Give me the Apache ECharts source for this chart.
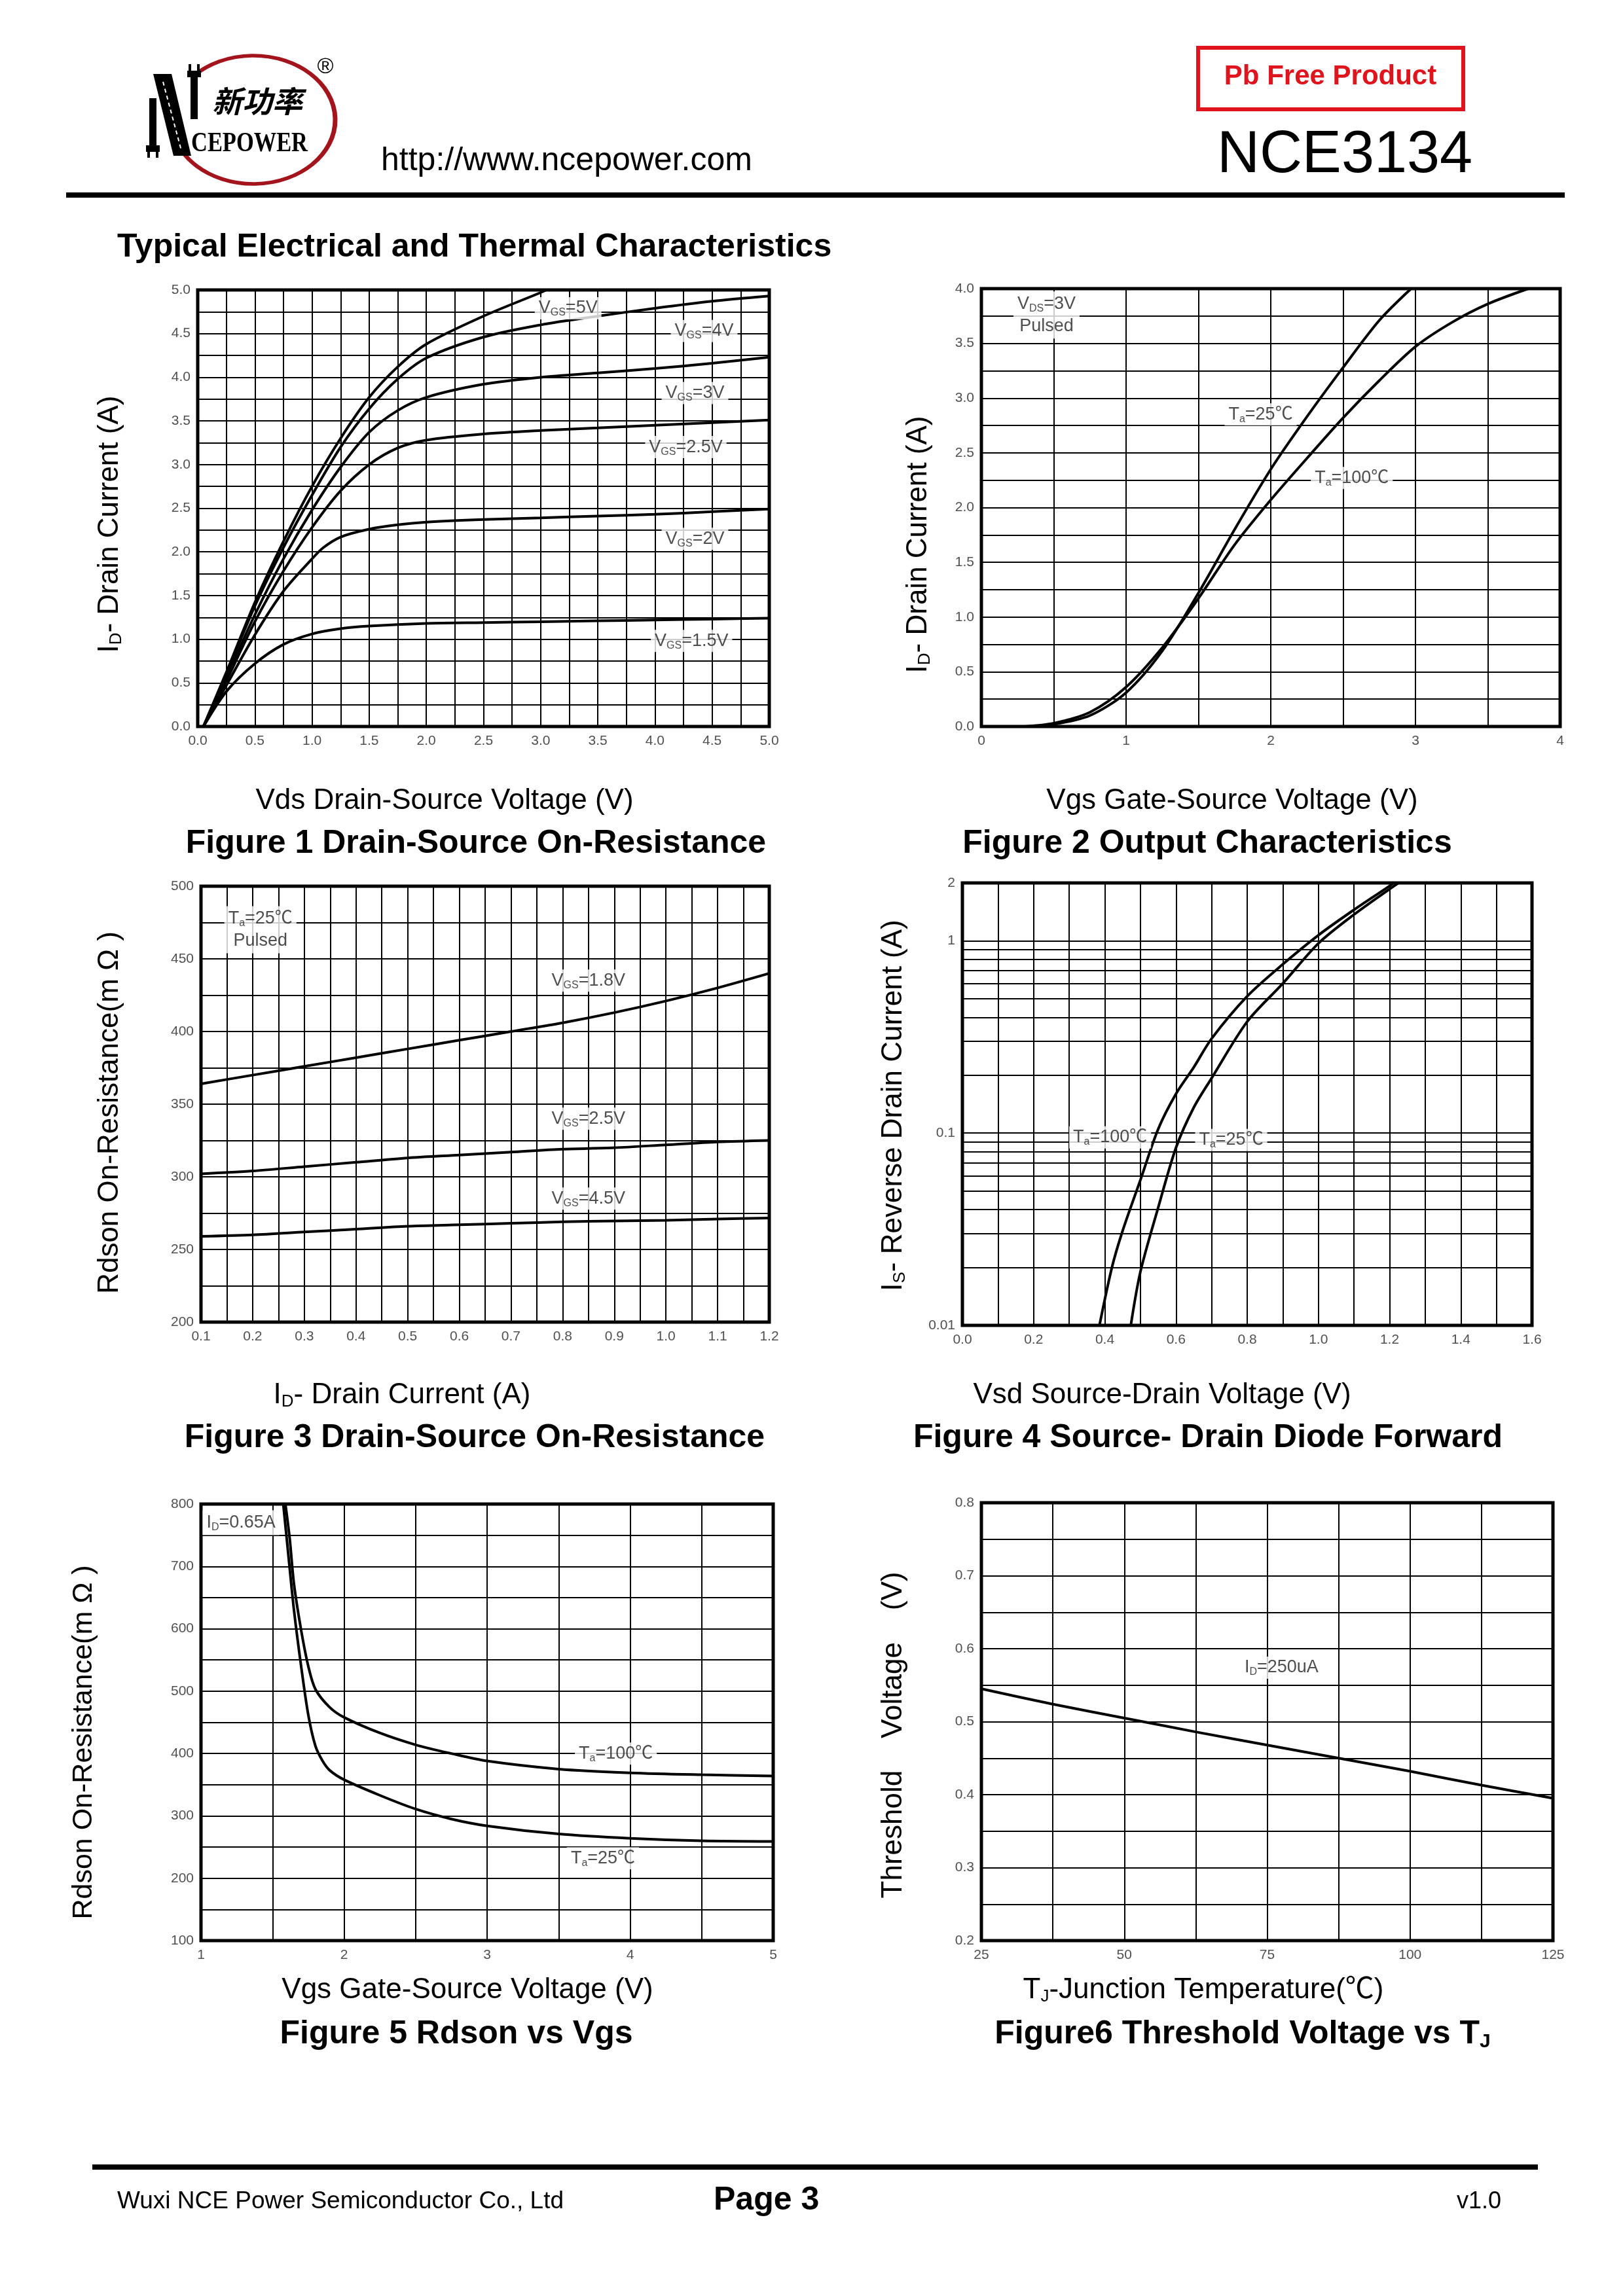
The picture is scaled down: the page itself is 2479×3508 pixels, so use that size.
<!DOCTYPE html>
<html>
<head>
<meta charset="utf-8">
<script src="https://cdn.jsdelivr.net/npm/echarts@6/dist/echarts.min.js"></script>
<style>html,body{margin:0;padding:0;background:#fff}#c{width:2479px;height:3508px}</style>
</head>
<body>
<div id="c"></div>
<script>
// ---------- DATA ----------
// Figure 1: ID vs VDS for several VGS
const fig1_vgs5  = [[0.05,0],[0.25,0.62],[0.5,1.42],[0.75,2.12],[1.0,2.75],[1.25,3.3],[1.5,3.77],[1.75,4.12],[2.0,4.38],[2.5,4.7],[3.0,4.97],[3.05,5.0]];
const fig1_vgs4  = [[0.05,0],[0.25,0.6],[0.5,1.38],[0.75,2.05],[1.0,2.65],[1.25,3.2],[1.5,3.64],[1.75,3.98],[2.0,4.22],[2.5,4.46],[3.0,4.6],[3.5,4.7],[4.0,4.79],[4.5,4.87],[5.0,4.93]];
const fig1_vgs3  = [[0.05,0],[0.25,0.56],[0.5,1.28],[0.75,1.92],[1.0,2.48],[1.25,2.97],[1.5,3.37],[1.75,3.62],[2.0,3.77],[2.5,3.92],[3.0,4.0],[3.5,4.05],[4.0,4.1],[4.5,4.16],[5.0,4.23]];
const fig1_vgs25 = [[0.05,0],[0.25,0.52],[0.5,1.2],[0.75,1.78],[1.0,2.28],[1.25,2.7],[1.5,3.0],[1.75,3.19],[2.0,3.28],[2.5,3.35],[3.0,3.39],[3.5,3.42],[4.0,3.45],[4.5,3.48],[5.0,3.51]];
const fig1_vgs2  = [[0.05,0],[0.25,0.47],[0.5,1.05],[0.75,1.55],[1.0,1.92],[1.1,2.05],[1.25,2.17],[1.5,2.26],[1.75,2.31],[2.0,2.34],[2.5,2.37],[3.0,2.39],[3.5,2.41],[4.0,2.43],[4.5,2.46],[5.0,2.49]];
const fig1_vgs15 = [[0.05,0],[0.25,0.4],[0.5,0.72],[0.75,0.94],[1.0,1.06],[1.25,1.12],[1.5,1.15],[2.0,1.18],[2.5,1.19],[3.0,1.2],[3.5,1.21],[4.0,1.22],[4.5,1.23],[5.0,1.24]];
const fig1_labels = [[3.24,4.79,'V','GS','=5V'],[4.43,4.53,'V','GS','=4V'],[4.35,3.82,'V','GS','=3V'],[4.27,3.2,'V','GS','=2.5V'],[4.35,2.15,'V','GS','=2V'],[4.32,0.98,'V','GS','=1.5V']];

// Figure 2: ID vs VGS
const fig2_t25  = [[0.3,0],[0.5,0.02],[0.75,0.1],[1.0,0.31],[1.25,0.69],[1.5,1.22],[1.75,1.8],[2.0,2.35],[2.25,2.83],[2.5,3.28],[2.75,3.71],[2.97,4.0]];
const fig2_t100 = [[0.3,0],[0.5,0.03],[0.75,0.13],[1.0,0.36],[1.25,0.72],[1.5,1.17],[1.75,1.66],[2.0,2.07],[2.25,2.45],[2.5,2.82],[2.75,3.16],[3.0,3.47],[3.25,3.69],[3.5,3.86],[3.78,4.0]];
const fig2_labels = [[1.93,2.85,'T','a','=25℃'],[2.56,2.27,'T','a','=100℃']];

// Figure 3: Rdson vs ID
const fig3_x = [0.1,0.2,0.3,0.4,0.5,0.6,0.7,0.8,0.9,1.0,1.1,1.2];
const fig3_vgs18 = [364,370,376,382,388,394,400,406,413,421,430,440];
const fig3_vgs25 = [302,304,307,310,313,315,317,319,320,322,324,325];
const fig3_vgs45 = [259,260,262,264,266,267,268,269,269.6,270,271,271.6];
const fig3_labels = [[0.85,435,'V','GS','=1.8V'],[0.85,340,'V','GS','=2.5V'],[0.85,285,'V','GS','=4.5V']];

// Figure 4: IS vs VSD (log)
const fig4_t100 = [[0.385,0.01],[0.42,0.02],[0.45,0.031],[0.5,0.057],[0.55,0.105],[0.6,0.16],[0.65,0.22],[0.7,0.31],[0.8,0.515],[0.9,0.755],[1.0,1.07],[1.1,1.45],[1.2,1.93],[1.21,2.0]];
const fig4_t25  = [[0.473,0.01],[0.5,0.019],[0.55,0.041],[0.6,0.084],[0.65,0.136],[0.7,0.193],[0.8,0.38],[0.9,0.6],[1.0,0.97],[1.1,1.37],[1.2,1.86],[1.225,2.0]];
const fig4_labels = [[0.415,0.095,'T','a','=100℃'],[0.755,0.092,'T','a','=25℃']];
const fig4_yTicks = [0.01,0.1,1,2];
const fig4_minorGrid = [0.02,0.03,0.04,0.05,0.06,0.07,0.08,0.09,0.2,0.3,0.4,0.5,0.6,0.7,0.8,0.9];

// Figure 5: Rdson vs VGS
const fig5_t100 = [[1.59,800],[1.62,745],[1.65,672],[1.7,598],[1.75,540],[1.8,503],[1.9,474],[2.0,458],[2.25,433],[2.5,414],[2.75,400],[3.0,388],[3.5,375],[4.0,369],[4.5,366],[5.0,364]];
const fig5_t25  = [[1.575,800],[1.61,720],[1.65,630],[1.7,540],[1.75,462],[1.8,412],[1.85,388],[1.9,373],[2.0,358],[2.25,333],[2.5,311],[2.75,295],[3.0,284],[3.5,271],[4.0,264],[4.5,260],[5.0,259]];
const fig5_labels = [[3.9,400,'T','a','=100℃'],[3.81,232,'T','a','=25℃']];

// Figure 6: VGS(th) vs TJ
const fig6_tj = [25,37.5,50,62.5,75,87.5,100,112.5,125];
const fig6_vth = [0.545,0.524,0.505,0.486,0.468,0.45,0.432,0.413,0.395];
const fig6_labels = [[77.5,0.574,'I','D','=250uA']];

// ---------- STYLE ----------
const FF = '"Liberation Sans", Arial, "Noto Sans CJK SC", sans-serif';
const TICK = {fontFamily: FF, fontSize: 21, color: '#505050'};
const RICH = {
  v: {fontFamily: FF, fontSize: 27, color: '#222'},
  s: {fontFamily: FF, fontSize: 16, color: '#222', padding: [14, 0, 0, 0]}
};

const grids = [
  {left: 302, top: 443, width: 873, height: 667},
  {left: 1499, top: 441, width: 884, height: 669},
  {left: 307, top: 1354, width: 868, height: 666},
  {left: 1470, top: 1349, width: 870, height: 676},
  {left: 307, top: 2298, width: 874, height: 667},
  {left: 1499, top: 2296, width: 873, height: 669}
].map(g => Object.assign({show: true, borderColor: '#000', borderWidth: 5, containLabel: false}, g));

function valAxis(gi, min, max, interval, dec, isX) {
  return {
    type: 'value', gridIndex: gi, min: min, max: max, interval: interval,
    axisLine: {show: false}, axisTick: {show: false},
    minorTick: {show: false, splitNumber: 2},
    splitLine: {show: true, lineStyle: {color: '#000', width: 2}},
    minorSplitLine: {show: true, lineStyle: {color: '#000', width: 2}},
    axisLabel: Object.assign({margin: isX ? 12 : 11, formatter: v => Number(v).toFixed(dec)}, TICK)
  };
}

const xAxes = [
  valAxis(0, 0, 5, 0.5, 1, true),
  valAxis(1, 0, 4, 1, 0, true),
  valAxis(2, 0.1, 1.2, 0.1, 1, true),
  valAxis(3, 0, 1.6, 0.2, 1, true),
  valAxis(4, 1, 5, 1, 0, true),
  valAxis(5, 25, 125, 25, 0, true)
];
const yAxes = [
  valAxis(0, 0, 5, 0.5, 1, false),
  valAxis(1, 0, 4, 0.5, 1, false),
  valAxis(2, 200, 500, 50, 0, false),
  {
    type: 'log', logBase: 10, gridIndex: 3, min: 0.01, max: 2,
    axisLine: {show: false}, axisTick: {show: false},
    splitLine: {show: true, lineStyle: {color: '#000', width: 2}},
    axisLabel: Object.assign({margin: 11, customValues: fig4_yTicks, formatter: v => String(+Number(v).toPrecision(3))}, TICK)
  },
  valAxis(4, 100, 800, 100, 0, false),
  valAxis(5, 0.2, 0.8, 0.1, 1, false)
];

function curve(gi, data) {
  return {
    type: 'line', xAxisIndex: gi, yAxisIndex: gi, data: data,
    showSymbol: false, symbol: 'none', smooth: 0.3,
    lineStyle: {color: '#000', width: 4}, z: 5, silent: true, animation: false
  };
}
function labels(gi, arr) {
  return {
    type: 'scatter', xAxisIndex: gi, yAxisIndex: gi, symbolSize: 0, silent: true, z: 8,
    data: arr.map(a => ({value: [a[0], a[1]], name: '{v|' + a[2] + '}{s|' + a[3] + '}{v|' + a[4] + '}'})),
    label: {show: true, position: 'inside', formatter: p => p.name, backgroundColor: '#fff', padding: [2, 6, 2, 6], rich: RICH},
    animation: false
  };
}
function noteBox(gi, x, y, text) {
  return {
    type: 'scatter', xAxisIndex: gi, yAxisIndex: gi, symbolSize: 0, silent: true, z: 8,
    data: [{value: [x, y], name: text}],
    label: {show: true, position: 'inside', formatter: p => p.name, backgroundColor: '#fff', padding: [2, 6, 2, 6], lineHeight: 34, rich: RICH},
    animation: false
  };
}

const series = [
  curve(0, fig1_vgs5), curve(0, fig1_vgs4), curve(0, fig1_vgs3), curve(0, fig1_vgs25), curve(0, fig1_vgs2), curve(0, fig1_vgs15),
  labels(0, fig1_labels),
  curve(1, fig2_t25), curve(1, fig2_t100), labels(1, fig2_labels),
  noteBox(1, 0.45, 3.76, '{v|V}{s|DS}{v|=3V}\n{v|Pulsed}'),
  curve(2, fig3_x.map((x, i) => [x, fig3_vgs18[i]])),
  curve(2, fig3_x.map((x, i) => [x, fig3_vgs25[i]])),
  curve(2, fig3_x.map((x, i) => [x, fig3_vgs45[i]])),
  labels(2, fig3_labels),
  noteBox(2, 0.215, 470, '{v|T}{s|a}{v|=25℃}\n{v|Pulsed}'),
  Object.assign(curve(3, fig4_t100), {
    markLine: {silent: true, symbol: 'none', animation: false, label: {show: false},
      lineStyle: {color: '#000', width: 2, type: 'solid'},
      data: fig4_minorGrid.map(v => ({yAxis: v}))}
  }),
  curve(3, fig4_t25), labels(3, fig4_labels),
  curve(4, fig5_t100), curve(4, fig5_t25), labels(4, fig5_labels),
  noteBox(4, 1.28, 770, '{v|I}{s|D}{v|=0.65A}'),
  curve(5, fig6_tj.map((x, i) => [x, fig6_vth[i]])), labels(5, fig6_labels)
];

// ---------- PAGE TEXT ----------
function txt(x, y, text, size, opts) {
  opts = opts || {};
  return {
    type: 'text', x: x, y: y, rotation: opts.rot || 0, scaleX: opts.sx || 1, z: 20,
    style: {
      text: text, fill: opts.color || '#000',
      font: (opts.italic ? 'italic ' : '') + (opts.bold ? 'bold ' : '') + size + 'px ' + (opts.family || FF),
      align: opts.align || 'center', verticalAlign: 'middle',
      rich: opts.rich
    }
  };
}
const richTitle = (sz, bold) => ({
  n: {fontFamily: FF, fontSize: sz, fontWeight: bold ? 'bold' : 'normal', fill: '#000'},
  s: {fontFamily: FF, fontSize: Math.round(sz * 0.6), fontWeight: bold ? 'bold' : 'normal', fill: '#000', padding: [Math.round(sz * 0.45), 0, 0, 0]}
});

const AX = 44, FT = 50;
const D2R = Math.PI / 180;
const graphic = [
  // logo: open red ellipse + stylised "N" built from two plugs and a diagonal bar
  {type: 'arc', x: 387, y: 183, scaleY: 98 / 125, z: 20,
   shape: {cx: 0, cy: 0, r: 125, startAngle: -136 * D2R, endAngle: 150 * D2R, clockwise: true},
   style: {fill: 'none', stroke: '#a3141c', lineWidth: 7}},
  {type: 'rect', shape: {x: 228, y: 150, width: 11, height: 76}, style: {fill: '#000'}, z: 21},
  {type: 'rect', shape: {x: 223, y: 222, width: 21, height: 10}, style: {fill: '#000'}, z: 21},
  {type: 'rect', shape: {x: 225, y: 231, width: 4, height: 10}, style: {fill: '#000'}, z: 21},
  {type: 'rect', shape: {x: 238, y: 231, width: 4, height: 10}, style: {fill: '#000'}, z: 21},
  {type: 'polygon', shape: {points: [[234, 113], [262, 113], [292, 238], [265, 238]]}, style: {fill: '#000'}, z: 21},
  {type: 'polyline', shape: {points: [[249, 125], [277, 230]]}, style: {stroke: '#fff', lineWidth: 2, lineDash: [6, 5]}, z: 22},
  {type: 'rect', shape: {x: 291, y: 112, width: 11, height: 70}, style: {fill: '#000'}, z: 21},
  {type: 'rect', shape: {x: 286, y: 108, width: 21, height: 10}, style: {fill: '#000'}, z: 21},
  {type: 'rect', shape: {x: 288, y: 98, width: 4, height: 11}, style: {fill: '#000'}, z: 21},
  {type: 'rect', shape: {x: 301, y: 98, width: 4, height: 11}, style: {fill: '#000'}, z: 21},
  txt(393, 155, '新功率', 46, {bold: true, italic: true, family: '"Noto Sans CJK SC", sans-serif'}),
  txt(381, 220, 'CEPOWER', 42, {bold: true, sx: 0.82, family: '"Liberation Serif", serif'}),
  txt(497, 103, '®', 34, {}),
  txt(582, 246, 'http://www.ncepower.com', 50, {align: 'left'}),
  {type: 'rect', shape: {x: 1830, y: 73, width: 405, height: 94}, style: {fill: 'none', stroke: '#e0141c', lineWidth: 6}, z: 20},
  txt(2032, 117, 'Pb Free Product', 42, {bold: true, color: '#e0141c'}),
  txt(2054, 238, 'NCE3134', 90, {}),
  {type: 'rect', shape: {x: 101, y: 294, width: 2289, height: 8}, style: {fill: '#000'}, z: 20},
  txt(179, 378, 'Typical Electrical and Thermal Characteristics', 50, {bold: true, align: 'left'}),

  // x-axis titles
  txt(679, 1224, 'Vds Drain-Source Voltage (V)', AX),
  txt(1882, 1224, 'Vgs Gate-Source Voltage (V)', AX),
  txt(614, 2132, '{n|I}{s|D}{n|- Drain Current (A)}', AX, {rich: richTitle(AX)}),
  txt(1775, 2132, 'Vsd Source-Drain Voltage (V)', AX),
  txt(714, 3041, 'Vgs Gate-Source Voltage (V)', AX),
  txt(1838, 3041, '{n|T}{s|J}{n|-Junction Temperature(℃)}', AX, {rich: richTitle(AX)}),

  // y-axis titles
  txt(168, 801, '{n|I}{s|D}{n|- Drain Current (A)}', AX, {rot: Math.PI / 2, rich: richTitle(AX)}),
  txt(1403, 832, '{n|I}{s|D}{n|- Drain Current (A)}', AX, {rot: Math.PI / 2, rich: richTitle(AX)}),
  txt(168, 1700, 'Rdson On-Resistance(m Ω )', AX, {rot: Math.PI / 2}),
  txt(1365, 1689, '{n|I}{s|S}{n|- Reverse Drain Current (A)}', AX, {rot: Math.PI / 2, rich: richTitle(AX)}),
  txt(128, 2662, 'Rdson On-Resistance(m Ω )', 43, {rot: Math.PI / 2}),
  txt(1365, 2651, 'Threshold    Voltage    (V)', AX, {rot: Math.PI / 2}),

  // figure titles
  txt(727, 1289, 'Figure 1 Drain-Source On-Resistance', FT, {bold: true}),
  txt(1844, 1289, 'Figure 2 Output Characteristics', FT, {bold: true}),
  txt(725, 2197, 'Figure 3 Drain-Source On-Resistance', FT, {bold: true}),
  txt(1845, 2197, 'Figure 4 Source- Drain Diode Forward', FT, {bold: true}),
  txt(697, 3108, 'Figure 5 Rdson vs Vgs', FT, {bold: true}),
  txt(1898, 3108, '{n|Figure6 Threshold Voltage vs T}{s|J}', FT, {bold: true, rich: richTitle(FT, true)}),

  // footer
  {type: 'rect', shape: {x: 141, y: 3307, width: 2208, height: 8}, style: {fill: '#000'}, z: 20},
  txt(179, 3364, 'Wuxi NCE Power Semiconductor Co., Ltd', 37, {align: 'left'}),
  txt(1090, 3362, 'Page 3', 50, {bold: true, align: 'left'}),
  txt(2293, 3364, 'v1.0', 36, {align: 'right'})
];

const chart = echarts.init(document.getElementById('c'), null, {renderer: 'canvas', width: 2479, height: 3508});
chart.setOption({
  animation: false,
  backgroundColor: '#fff',
  grid: grids,
  xAxis: xAxes,
  yAxis: yAxes,
  series: series,
  graphic: graphic
});
</script>
</body>
</html>
